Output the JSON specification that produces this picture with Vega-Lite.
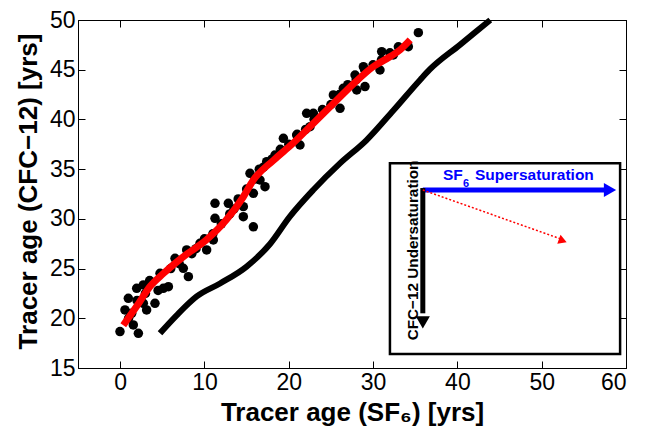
{
  "$schema": "https://vega.github.io/schema/vega-lite/v6.json",
  "width": 548,
  "height": 348,
  "autosize": {"type": "none"},
  "padding": {"left": 78, "top": 20, "right": 25, "bottom": 64},
  "background": "white",
  "config": {
    "view": {"stroke": "black", "strokeWidth": 1},
    "axis": {
      "grid": false,
      "domainColor": "black",
      "tickColor": "black",
      "tickSize": -7,
      "labelFont": "Liberation Sans",
      "labelFontSize": 23,
      "labelColor": "black",
      "titleFont": "Liberation Sans",
      "titleFontSize": 26,
      "titleFontWeight": "bold",
      "titleColor": "black"
    }
  },
  "datasets": {
    "scatter": [
      {"x": -0.02, "y": 18.66}, {"x": 2.16, "y": 18.49}, {"x": 1.56, "y": 19.33}, {"x": 0.57, "y": 20.84},
      {"x": 0.97, "y": 22.01}, {"x": 1.96, "y": 23.01}, {"x": 2.75, "y": 23.35}, {"x": 2.75, "y": 21.51},
      {"x": 1.37, "y": 20.5}, {"x": 3.14, "y": 20.84}, {"x": 4.13, "y": 21.51}, {"x": 5.12, "y": 23.01},
      {"x": 5.72, "y": 23.18}, {"x": 4.73, "y": 24.52}, {"x": 6.51, "y": 26.03}, {"x": 7.49, "y": 25.03},
      {"x": 8.09, "y": 24.19}, {"x": 7.89, "y": 26.87}, {"x": 9.47, "y": 27.54}, {"x": 10.26, "y": 26.87},
      {"x": 11.05, "y": 27.88}, {"x": 11.25, "y": 30.05}, {"x": 11.25, "y": 31.56}, {"x": 12.83, "y": 31.56},
      {"x": 14.61, "y": 31.23}, {"x": 14.61, "y": 30.22}, {"x": 15.8, "y": 29.2}, {"x": 15.4, "y": 34.58},
      {"x": 16.59, "y": 33.91}, {"x": 17.18, "y": 33.24}, {"x": 15.8, "y": 32.57}, {"x": 17.38, "y": 35.75},
      {"x": 18.37, "y": 36.42}, {"x": 19.36, "y": 38.1}, {"x": 20.94, "y": 38.43}, {"x": 21.33, "y": 37.43},
      {"x": 22.52, "y": 39.27}, {"x": 22.12, "y": 40.61}, {"x": 22.92, "y": 40.61}, {"x": 25.29, "y": 42.46},
      {"x": 26.08, "y": 41.12}, {"x": 26.47, "y": 43.13}, {"x": 27.86, "y": 44.47}, {"x": 28.06, "y": 42.96},
      {"x": 29.04, "y": 43.3}, {"x": 28.85, "y": 45.31}, {"x": 30.82, "y": 44.97}, {"x": 31.02, "y": 46.82},
      {"x": 32.4, "y": 46.48}, {"x": 34.18, "y": 47.32}, {"x": 35.37, "y": 48.73},
      {"x": 1.0, "y": 20.0}, {"x": 2.0, "y": 21.8}, {"x": 3.0, "y": 22.5}, {"x": 3.5, "y": 23.8},
      {"x": 4.5, "y": 22.8}, {"x": 6.0, "y": 25.0}, {"x": 7.0, "y": 25.5}, {"x": 8.5, "y": 26.5},
      {"x": 9.0, "y": 27.0}, {"x": 10.0, "y": 28.0}, {"x": 11.0, "y": 28.5}, {"x": 12.0, "y": 29.5},
      {"x": 13.0, "y": 30.5}, {"x": 13.5, "y": 31.0}, {"x": 14.0, "y": 32.0}, {"x": 15.0, "y": 33.0},
      {"x": 16.0, "y": 34.0}, {"x": 16.5, "y": 35.0}, {"x": 17.0, "y": 35.2}, {"x": 18.0, "y": 36.0},
      {"x": 19.0, "y": 37.0}, {"x": 20.0, "y": 37.5}, {"x": 21.0, "y": 38.5}, {"x": 22.0, "y": 39.0},
      {"x": 23.0, "y": 40.0}, {"x": 24.0, "y": 41.0}, {"x": 25.0, "y": 41.5}, {"x": 26.0, "y": 42.5},
      {"x": 27.0, "y": 43.5}, {"x": 28.0, "y": 44.0}, {"x": 29.0, "y": 45.0}, {"x": 30.0, "y": 45.5},
      {"x": 31.0, "y": 46.0}, {"x": 32.0, "y": 46.7}, {"x": 33.0, "y": 47.3}
    ],
    "redfit": [
      {"x": 0.37, "y": 19.3}, {"x": 1.96, "y": 21.2}, {"x": 3.54, "y": 23.2}, {"x": 5.12, "y": 24.5},
      {"x": 7.5, "y": 26.2}, {"x": 10.26, "y": 27.9}, {"x": 12.6, "y": 29.9}, {"x": 14.6, "y": 32.2},
      {"x": 15.8, "y": 33.9}, {"x": 18.2, "y": 35.9}, {"x": 20.5, "y": 37.6}, {"x": 22.9, "y": 39.6},
      {"x": 25.3, "y": 41.6}, {"x": 27.7, "y": 43.6}, {"x": 30.0, "y": 45.3}, {"x": 32.0, "y": 46.3},
      {"x": 33.2, "y": 47.0}, {"x": 34.4, "y": 48.0}
    ],
    "blackcurve": [
      {"x": 4.73, "y": 18.5}, {"x": 6.7, "y": 20.3}, {"x": 9.08, "y": 22.2}, {"x": 11.84, "y": 23.5},
      {"x": 15.0, "y": 25.2}, {"x": 17.8, "y": 27.5}, {"x": 20.1, "y": 30.2}, {"x": 22.9, "y": 32.9},
      {"x": 26.1, "y": 35.6}, {"x": 29.2, "y": 37.9}, {"x": 32.4, "y": 40.9}, {"x": 35.6, "y": 44.0},
      {"x": 36.7, "y": 45.0}, {"x": 40.3, "y": 47.5}, {"x": 43.9, "y": 50.0}
    ]
  },
  "layer": [
    {
      "data": {"name": "scatter"},
      "mark": {"type": "point", "filled": true, "color": "black", "opacity": 1, "size": 90},
      "encoding": {
        "x": {"field": "x", "type": "quantitative", "scale": {"domain": [-5, 60], "nice": false, "zero": false},
              "axis": {"values": [0, 10, 20, 30, 40, 50, 60], "title": "Tracer age (SF₆) [yrs]", "labelPadding": 10, "titleBaseline": "alphabetic", "titleY": 52}},
        "y": {"field": "y", "type": "quantitative", "scale": {"domain": [15, 50], "nice": false, "zero": false},
              "axis": {"values": [15, 20, 25, 30, 35, 40, 45, 50], "title": "Tracer age (CFC−12) [yrs]", "labelPadding": 10, "titleBaseline": "middle", "titleX": -50, "titleY": 171}}
      }
    },
    {
      "data": {"name": "redfit"},
      "mark": {"type": "line", "color": "#ff0000", "strokeWidth": 7, "interpolate": "monotone"},
      "encoding": {
        "x": {"field": "x", "type": "quantitative", "axis": {"orient": "top", "labels": false, "title": null, "values": [0, 10, 20, 30, 40, 50, 60]}},
        "y": {"field": "y", "type": "quantitative", "axis": {"orient": "right", "labels": false, "title": null, "values": [15, 20, 25, 30, 35, 40, 45, 50]}}
      }
    },
    {
      "data": {"name": "blackcurve"},
      "mark": {"type": "line", "color": "black", "strokeWidth": 6, "interpolate": "monotone"},
      "encoding": {
        "x": {"field": "x", "type": "quantitative", "axis": null},
        "y": {"field": "y", "type": "quantitative", "axis": null}
      }
    },
    {
      "data": {"values": [{"x": 32.0, "x2": 59.3, "y": 35.6, "y2": 16.4}]},
      "mark": {"type": "rect", "fill": "white", "stroke": "black", "strokeWidth": 2.5},
      "encoding": {
        "x": {"field": "x", "type": "quantitative", "axis": null}, "x2": {"field": "x2"},
        "y": {"field": "y", "type": "quantitative", "axis": null}, "y2": {"field": "y2"}
      }
    },
    {
      "data": {"values": [{"x": 35.9, "x2": 57.5, "y": 32.9, "y2": 32.9}]},
      "mark": {"type": "rule", "color": "#0000ff", "strokeWidth": 5},
      "encoding": {
        "x": {"field": "x", "type": "quantitative", "axis": null}, "x2": {"field": "x2"},
        "y": {"field": "y", "type": "quantitative", "axis": null}, "y2": {"field": "y2"}
      }
    },
    {
      "data": {"values": [{"x": 35.9, "x2": 35.9, "y": 33.1, "y2": 20.5}]},
      "mark": {"type": "rule", "color": "black", "strokeWidth": 5},
      "encoding": {
        "x": {"field": "x", "type": "quantitative", "axis": null}, "x2": {"field": "x2"},
        "y": {"field": "y", "type": "quantitative", "axis": null}, "y2": {"field": "y2"}
      }
    },
    {
      "data": {"values": [{"x": 35.9, "x2": 52.2, "y": 32.9, "y2": 28.0}]},
      "mark": {"type": "rule", "color": "#ff0000", "strokeWidth": 1.5, "strokeDash": [2, 2]},
      "encoding": {
        "x": {"field": "x", "type": "quantitative", "axis": null}, "x2": {"field": "x2"},
        "y": {"field": "y", "type": "quantitative", "axis": null}, "y2": {"field": "y2"}
      }
    },
    {
      "data": {"values": [{"x": 58.1, "y": 32.9}]},
      "mark": {"type": "point", "shape": "triangle-right", "filled": true, "color": "#0000ff", "opacity": 1, "size": 200},
      "encoding": {"x": {"field": "x", "type": "quantitative", "axis": null}, "y": {"field": "y", "type": "quantitative", "axis": null}}
    },
    {
      "data": {"values": [{"x": 35.9, "y": 19.6}]},
      "mark": {"type": "point", "shape": "triangle-down", "filled": true, "color": "black", "opacity": 1, "size": 200},
      "encoding": {"x": {"field": "x", "type": "quantitative", "axis": null}, "y": {"field": "y", "type": "quantitative", "axis": null}}
    },
    {
      "data": {"values": [{"x": 52.5, "y": 27.8}]},
      "mark": {"type": "point", "shape": "triangle-right", "filled": true, "color": "#ff0000", "opacity": 1, "size": 90, "angle": 20},
      "encoding": {"x": {"field": "x", "type": "quantitative", "axis": null}, "y": {"field": "y", "type": "quantitative", "axis": null}}
    },
    {
      "data": {"values": [{"x": 38.29, "y": 33.91, "t": "SF"}]},
      "mark": {"type": "text", "align": "left", "baseline": "alphabetic", "color": "#0000ff", "font": "Liberation Sans", "fontWeight": "bold", "fontSize": 15.5},
      "encoding": {"x": {"field": "x", "type": "quantitative", "axis": null}, "y": {"field": "y", "type": "quantitative", "axis": null}, "text": {"field": "t"}}
    },
    {
      "data": {"values": [{"x": 38.29, "y": 33.91, "t": "6"}]},
      "mark": {"type": "text", "align": "left", "baseline": "alphabetic", "color": "#0000ff", "font": "Liberation Sans", "fontWeight": "bold", "fontSize": 11, "dx": 20, "dy": 7},
      "encoding": {"x": {"field": "x", "type": "quantitative", "axis": null}, "y": {"field": "y", "type": "quantitative", "axis": null}, "text": {"field": "t"}}
    },
    {
      "data": {"values": [{"x": 38.29, "y": 33.91, "t": "Supersaturation"}]},
      "mark": {"type": "text", "align": "left", "baseline": "alphabetic", "color": "#0000ff", "font": "Liberation Sans", "fontWeight": "bold", "fontSize": 15.5, "dx": 32},
      "encoding": {"x": {"field": "x", "type": "quantitative", "axis": null}, "y": {"field": "y", "type": "quantitative", "axis": null}, "text": {"field": "t"}}
    },
    {
      "data": {"values": [{"x": 34.73, "y": 26.82, "t": "CFC−12 Undersaturation"}]},
      "mark": {"type": "text", "align": "center", "baseline": "middle", "angle": 270, "color": "black", "font": "Liberation Sans", "fontWeight": "bold", "fontSize": 15.3},
      "encoding": {"x": {"field": "x", "type": "quantitative", "axis": null}, "y": {"field": "y", "type": "quantitative", "axis": null}, "text": {"field": "t"}}
    }
  ],
  "resolve": {"axis": {"x": "independent", "y": "independent"}}
}
